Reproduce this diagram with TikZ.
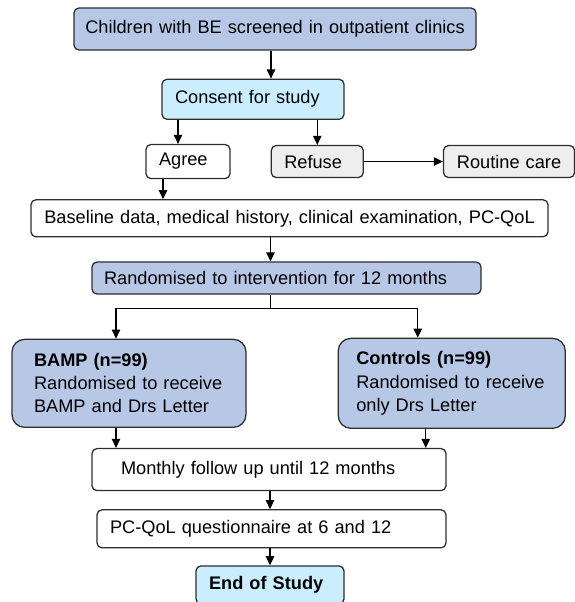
\documentclass[tikz,border=0pt]{standalone}
\usepackage{fontspec}
\setmainfont{Liberation Sans}
\usepackage{tikz}
\usetikzlibrary{arrows.meta,positioning}
\definecolor{trialBlue}{RGB}{183,200,231}
\definecolor{trialCyan}{RGB}{202,238,255}
\definecolor{trialGrey}{RGB}{238,238,238}
\definecolor{boxLine}{RGB}{45,45,45}
\tikzset{
  stepbox/.style={draw=boxLine, line width=0.9pt, rounded corners=3.5pt, fill=white, align=left, inner xsep=0.325cm, inner ysep=0pt, font=\fontsize{12.95}{16.4}\selectfont},
  bluebox/.style={stepbox, fill=trialBlue},
  cyanbox/.style={stepbox, fill=trialCyan},
  greybox/.style={stepbox, fill=trialGrey},
  armbox/.style={bluebox, rounded corners=9pt, inner xsep=0.55cm},
  flow/.style={-{Triangle[length=6.5pt,width=6pt]}, line width=0.8pt, draw=black},
  joint/.style={line width=0.8pt, draw=black}
}

\begin{document}
\begin{tikzpicture}
  \useasboundingbox (0,0) rectangle (14.35,-15.05);
  \node[bluebox, align=center, inner xsep=0.1cm, text width=9.85cm, minimum height=1.05cm] (screen) at (6.875,-0.725) {Children with BE screened in outpatient clinics};
  \node[cyanbox, below=0.7cm of screen, xshift=-0.55cm, text width=3.9cm, minimum height=1.0cm] (consent) {Consent for study};
  \node[stepbox, below=0.6cm of consent, xshift=-1.625cm, text width=1.45cm, minimum height=0.85cm] (agree) {Agree};
  \node[greybox, right=1.0cm of agree, text width=1.65cm, minimum height=0.8cm] (refuse) {Refuse};
  \node[greybox, right=1.975cm of refuse, align=center, inner xsep=0.1cm, text width=3.075cm, minimum height=0.8cm] (routine) {Routine care};
  \node[stepbox, below=0.5cm of agree, xshift=2.5375cm, align=center, inner xsep=0.1cm, text width=12.725cm, minimum height=0.925cm] (baseline) {Baseline data, medical history, clinical examination, PC-QoL};
  \node[bluebox, below=0.6cm of baseline, xshift=-0.075cm, inner xsep=0.3cm, text width=9.125cm, minimum height=0.8cm] (random) {Randomised to intervention for 12 months};
  \node[armbox, below=1.1cm of random, xshift=-3.9375cm, text width=4.75cm, minimum height=2.2cm] (bamp) {\textbf{BAMP (n=99)}\\Randomised to receive\\BAMP and Drs Letter};
  \node[armbox, right=2.275cm of bamp, inner xsep=0.45cm, text width=4.775cm, minimum height=2.25cm] (controls) {\textbf{Controls (n=99)}\\Randomised to receive\\only Drs Letter};
  \node[stepbox, below right=0.5cm and 2.0cm of bamp.south west, inner xsep=0.725cm, text width=7.4cm, minimum height=1.05cm] (monthly) {Monthly follow up until 12 months};
  \node[stepbox, below left=0.45cm and 0cm of monthly.south east, text width=8.075cm, minimum height=0.95cm] (pcqol) {PC-QoL questionnaire at 6 and 12};
  \node[cyanbox, below=0.42cm of pcqol, xshift=-0.0375cm, text width=3.05cm, minimum height=0.95cm] (endst) {\textbf{End of Study}};
  \coordinate[below=0.35cm of random.south, xshift=-0.4cm] (split);
  \draw[flow] ([xshift=-0.1cm]screen.south) -- ([xshift=-0.1cm]screen.south |- consent.north);
  \draw[flow] ([xshift=-0.25cm]agree.north |- consent.south) -- ([xshift=-0.25cm]agree.north);
  \draw[flow] (refuse.north |- consent.south) -- (refuse.north);
  \draw[flow] (refuse.east) -- (routine.west);
  \draw[flow] ([xshift=-0.625cm]agree.south) -- ([xshift=-0.625cm]agree.south |- baseline.north);
  \draw[flow] ([xshift=-0.4cm]random.north |- baseline.south) -- ([xshift=-0.4cm]random.north);
  \draw[joint] ([xshift=-0.4cm]random.south) -- (split);
  \draw[flow] (split) -| ([xshift=-0.325cm]bamp.north);
  \draw[flow] (split) -| ([xshift=-0.85cm]controls.north);
  \draw[flow] ([xshift=-0.325cm]bamp.south) -- ([xshift=-0.325cm]bamp.south |- monthly.north);
  \draw[flow] ([xshift=-0.65cm]controls.south) -- ([xshift=-0.65cm]controls.south |- monthly.north);
  \draw[flow] ([xshift=0.025cm]monthly.south) -- ([xshift=0.025cm]monthly.south |- pcqol.north);
  \draw[flow] (endst.north |- pcqol.south) -- (endst.north);
\end{tikzpicture}
\end{document}
